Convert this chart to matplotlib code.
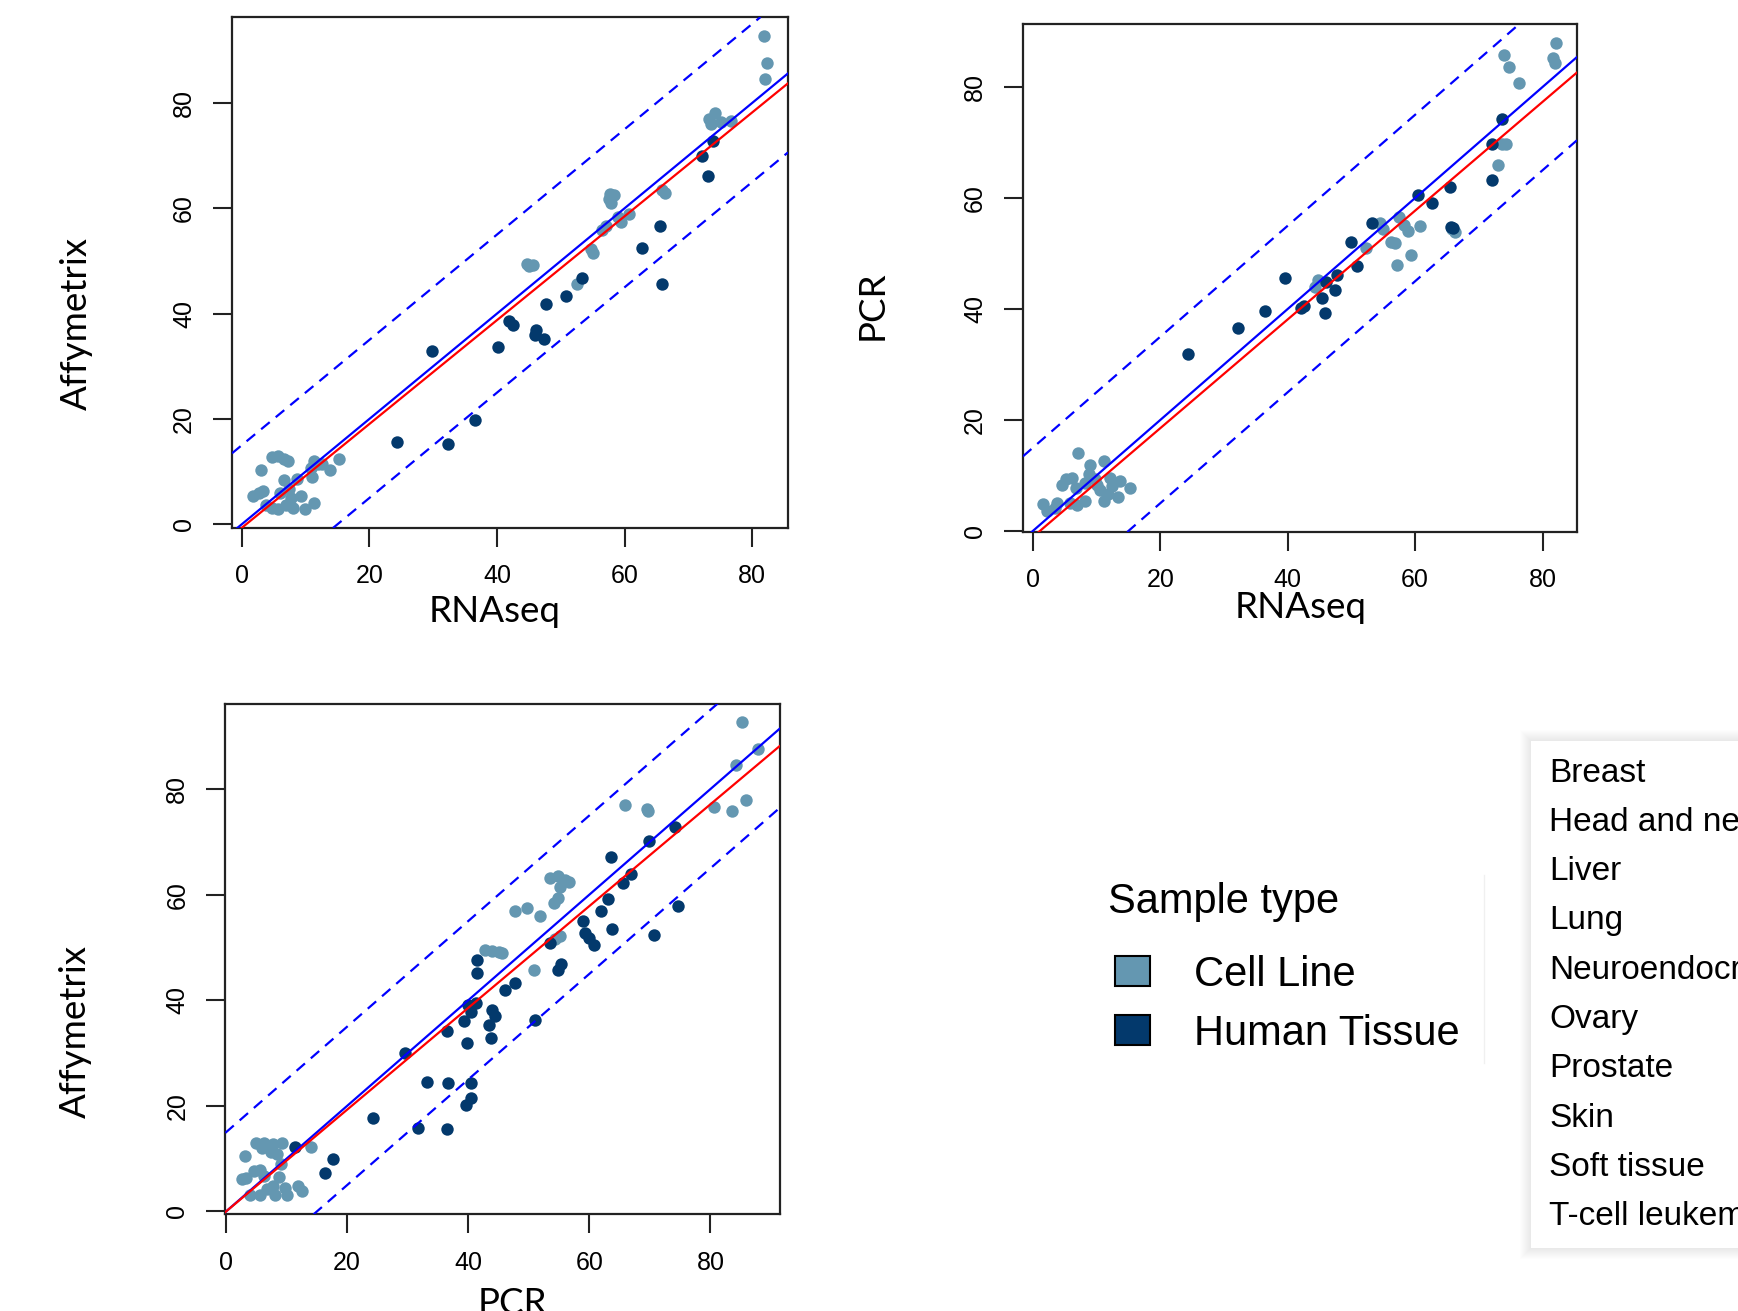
import matplotlib.pyplot as plt
from matplotlib.patches import Rectangle

plt.rcParams['font.family'] = ['Liberation Sans', 'DejaVu Sans']

# ---------------- data ----------------
# panel 1: RNAseq (x) against Affymetrix (y)
p1_cell_x = [81.8, 82.3, 82.0, 73.3, 74.2, 73.6, 75.1, 76.6, 57.7, 58.3, 57.5, 57.8,
             65.8, 66.4, 56.5, 57.1, 58.9, 59.5, 60.7, 54.7, 55.1, 44.7, 45.0, 45.6, 52.6,
             3.0, 4.8, 5.7, 6.6, 7.2, 1.8, 2.7, 3.3, 3.9, 4.8, 5.7, 6.9, 8.1, 9.9, 11.4,
             6.6, 7.5, 8.7, 9.3, 7.8, 6.0, 10.8, 11.4, 12.6, 13.8, 15.3, 11.1, 12.0]
p1_cell_y = [92.7, 87.5, 84.5, 76.9, 78.0, 75.9, 76.3, 76.6, 62.7, 62.5, 61.7, 61.0,
             63.4, 62.9, 55.9, 56.6, 58.3, 57.3, 59.0, 52.2, 51.5, 49.4, 49.1, 49.3, 45.7,
             10.4, 12.8, 12.9, 12.4, 12.0, 5.3, 6.0, 6.3, 3.6, 3.2, 3.0, 3.6, 3.2, 3.0, 4.0,
             8.4, 6.7, 8.7, 5.3, 5.0, 6.0, 10.7, 12.1, 11.4, 10.4, 12.4, 9.0, 11.4]
p1_tissue_x = [73.8, 72.2, 73.1, 65.5, 62.8, 65.9, 53.3, 50.9, 47.7, 41.9, 42.5, 46.2,
               45.9, 47.4, 40.2, 29.8, 36.5, 24.3, 32.3]
p1_tissue_y = [72.7, 70.0, 66.1, 56.7, 52.5, 45.7, 46.7, 43.3, 41.8, 38.7, 37.8, 36.9,
               35.9, 35.2, 33.7, 32.9, 19.8, 15.6, 15.3]
p1_fit = [-0.68, 0.986]   # intercept, slope of the red line

# panel 2: RNAseq (x) against PCR (y)
p2_cell_x = [82.1, 73.9, 81.7, 81.9, 74.8, 76.3, 73.6, 74.2, 73.0, 57.4, 58.3, 58.9,
             60.7, 54.4, 55.0, 56.2, 56.8, 52.3, 59.4, 57.2, 65.8, 66.3, 44.7, 44.2,
             7.0, 11.1, 8.9, 5.2, 6.1, 4.6, 6.7, 8.2, 9.7, 12.1, 13.6, 10.6, 11.8, 13.3,
             11.2, 15.3, 8.2, 6.9, 3.7, 1.6, 2.2, 3.4, 5.8, 10.0, 12.4, 8.8]
p2_cell_y = [87.9, 85.8, 85.2, 84.4, 83.6, 80.7, 69.7, 69.8, 66.0, 56.5, 55.1, 54.1,
             54.9, 55.4, 54.4, 52.0, 51.8, 50.9, 49.8, 47.9, 54.4, 53.8, 45.3, 43.9,
             14.1, 12.6, 11.8, 9.3, 9.6, 8.3, 7.7, 8.6, 9.3, 9.6, 9.0, 7.4, 6.7, 6.1,
             5.4, 7.7, 5.4, 4.6, 5.1, 4.9, 3.5, 4.2, 5.1, 8.3, 8.0, 10.2]
p2_tissue_x = [73.7, 72.1, 72.1, 60.5, 62.6, 65.4, 65.7, 65.9, 53.3, 49.9, 50.8, 47.7,
               46.0, 47.4, 45.3, 45.9, 42.1, 42.5, 39.5, 36.4, 32.2, 24.3]
p2_tissue_y = [74.3, 69.8, 63.2, 60.5, 59.1, 62.0, 54.8, 54.6, 55.4, 52.1, 47.7, 46.1,
               44.8, 43.4, 42.0, 39.2, 40.2, 40.5, 45.6, 39.7, 36.5, 31.8]
p2_fit = [-1.08, 0.98]

# panel 3: PCR (x) against Affymetrix (y)
p3_cell_x = [85.2, 87.9, 84.2, 65.9, 69.6, 69.7, 80.6, 83.5, 85.8, 53.5, 54.8, 56.0,
             56.7, 55.2, 54.1, 54.9, 47.8, 49.7, 51.8, 54.4, 55.2, 42.8, 44.0, 45.0,
             45.5, 50.9, 14.1,
             3.2, 4.9, 6.2, 7.8, 9.3, 5.9, 7.4, 8.4, 9.0, 5.6, 4.6, 3.3, 6.2, 8.7, 7.8,
             9.7, 11.9, 12.5, 4.0, 5.6, 8.1, 10.0, 6.8, 2.7]
p3_cell_y = [92.7, 87.6, 84.6, 77.0, 76.3, 75.8, 76.6, 75.8, 78.0, 63.1, 63.6, 62.7,
             62.4, 61.4, 58.5, 59.4, 56.9, 57.5, 55.9, 51.6, 52.2, 49.5, 49.4, 49.2,
             48.9, 45.8, 12.3,
             10.6, 12.9, 13.0, 12.7, 12.9, 12.0, 11.3, 10.9, 8.9, 7.9, 7.6, 6.4, 6.8, 6.6,
             4.9, 4.5, 4.9, 3.9, 3.2, 3.2, 3.2, 3.2, 4.2, 6.2]
p3_tissue_x = [74.2, 69.8, 63.5, 66.8, 65.5, 63.1, 61.9, 58.9, 63.7, 59.2, 60.0, 60.8,
               74.6, 70.7, 53.5, 55.4, 54.8, 41.4, 41.5, 47.7, 46.1, 41.2, 39.9, 40.4,
               39.3, 43.9, 44.5, 43.5, 43.7, 39.8, 36.5, 51.0, 29.5, 33.2, 36.6, 40.4,
               40.4, 39.7, 31.7, 36.5, 24.2, 17.7, 16.3, 11.4]
p3_tissue_y = [72.9, 70.1, 67.1, 64.0, 62.2, 59.2, 56.9, 55.1, 53.5, 52.7, 51.7, 50.4,
               57.8, 52.4, 50.9, 46.8, 45.8, 47.6, 45.1, 43.3, 41.9, 39.4, 39.1, 37.7,
               36.0, 38.2, 37.0, 35.3, 32.9, 31.9, 34.1, 36.3, 30.1, 24.5, 24.4, 24.4,
               21.5, 20.1, 15.8, 15.6, 17.7, 9.9, 7.3, 12.2]
p3_fit = [0.0, 0.964]

band = 15   # dashed lines at y = x +/- band
ticks = [0, 20, 40, 60, 80]

sample_types = ["Cell Line", "Human Tissue"]
sample_colors = ["#6497b1", "#03396c"]
tissues = ["Breast", "Head and neck", "Liver", "Lung", "Neuroendocrine", "Ovary",
           "Prostate", "Skin", "Soft tissue", "T-cell leukemia"]

# ---------------- figure ----------------
W, H = 1738, 1311
fig = plt.figure(figsize=(W / 100, H / 100), dpi=100)


def fx(x):
    return x / W


def fy(y):
    return 1 - y / H


def panel(box, cx, cy, tx, ty, fit, xlim, ylim, xlab, ylab, xlab_at, ylab_at):
    l, t, r, b = box
    ax = fig.add_axes([fx(l), fy(b), (r - l) / W, (b - t) / H])
    ax.scatter(cx, cy, s=80, c=sample_colors[0], linewidths=0, zorder=2)
    ax.scatter(tx, ty, s=80, c=sample_colors[1], linewidths=0, zorder=2)
    ax.axline((0, 0), slope=1, color="blue", lw=1.6, zorder=3)
    for off in (band, -band):
        ax.axline((0, off), slope=1, color="blue", lw=1.6, ls=(0, (5, 3.5)), zorder=3)
    ax.axline((0, fit[0]), slope=fit[1], color="red", lw=1.6, zorder=4)
    ax.set_xlim(xlim)
    ax.set_ylim(ylim)
    ax.set_xticks(ticks)
    ax.set_yticks(ticks)
    ax.tick_params(direction="out", length=13.5, width=1.5, pad=12.5,
                   labelsize=18, color="#222222")
    ax.tick_params(axis="y", labelrotation=90)
    for lab in ax.get_yticklabels():
        lab.set_va("center")
    for sp in ax.spines.values():
        sp.set_linewidth(1.6)
        sp.set_color("#222222")
    ax.set_xlabel(xlab, fontfamily="Lato", fontsize=26.5, va="center")
    ax.set_ylabel(ylab, fontfamily="Lato", fontsize=26.5, va="center")
    ax.xaxis.set_label_coords((xlab_at[0] - l) / (r - l), (b - xlab_at[1]) / (b - t))
    ax.yaxis.set_label_coords((ylab_at[0] - l) / (r - l), (b - ylab_at[1]) / (b - t))
    return ax


panel((232, 17, 788, 528), p1_cell_x, p1_cell_y, p1_tissue_x, p1_tissue_y, p1_fit,
      (-1.5, 85.6), (-0.68, 96.3), "RNAseq", "Affymetrix", (495, 611), (76, 323))
panel((1023, 23.7, 1577, 532), p2_cell_x, p2_cell_y, p2_tissue_x, p2_tissue_y, p2_fit,
      (-1.56, 85.4), (-0.2, 91.4), "RNAseq", "PCR", (1301, 608), (872, 305))
panel((225.4, 703.5, 779.5, 1214.4), p3_cell_x, p3_cell_y, p3_tissue_x, p3_tissue_y,
      p3_fit, (-0.1, 91.4), (-0.55, 96.2), "PCR", "Affymetrix", (512, 1303), (75, 1031))

# ---------------- sample type legend ----------------
fig.text(fx(1108), fy(902), "Sample type", fontsize=30, va="center", ha="left")
for i, (name, col) in enumerate(zip(sample_types, sample_colors)):
    yc = 971 + 59 * i
    fig.patches.append(Rectangle((fx(1115), fy(yc + 15)), 35 / W, 30 / H,
                                 transform=fig.transFigure, facecolor=col,
                                 edgecolor="black", lw=1.5))
    fig.text(fx(1194), fy(yc + 4), name, fontsize=30, va="center", ha="left")
fig.lines.append(plt.Line2D([fx(1484), fx(1484)], [fy(875), fy(1063)],
                            transform=fig.transFigure, color="#f0f0f0", lw=1))

# ---------------- tissue list box (cut by the right edge) ----------------
bl, bt, br, bb = 1531, 741, 1770, 1248
for k in range(1, 12):
    fig.patches.append(Rectangle((fx(bl - k), fy(bb + k)), (br - bl + 2 * k) / W,
                                 (bb - bt + 2 * k) / H, transform=fig.transFigure,
                                 facecolor="black", edgecolor="none", alpha=0.008))
fig.patches.append(Rectangle((fx(bl), fy(bb)), (br - bl) / W, (bb - bt) / H,
                             transform=fig.transFigure, facecolor="white",
                             edgecolor="none"))
for i, name in enumerate(tissues):
    fig.text(fx(1549), fy(770 + 49.3 * i + 3), name, fontsize=24,
             va="center", ha="left")

fig.savefig("out.png", dpi=100)
